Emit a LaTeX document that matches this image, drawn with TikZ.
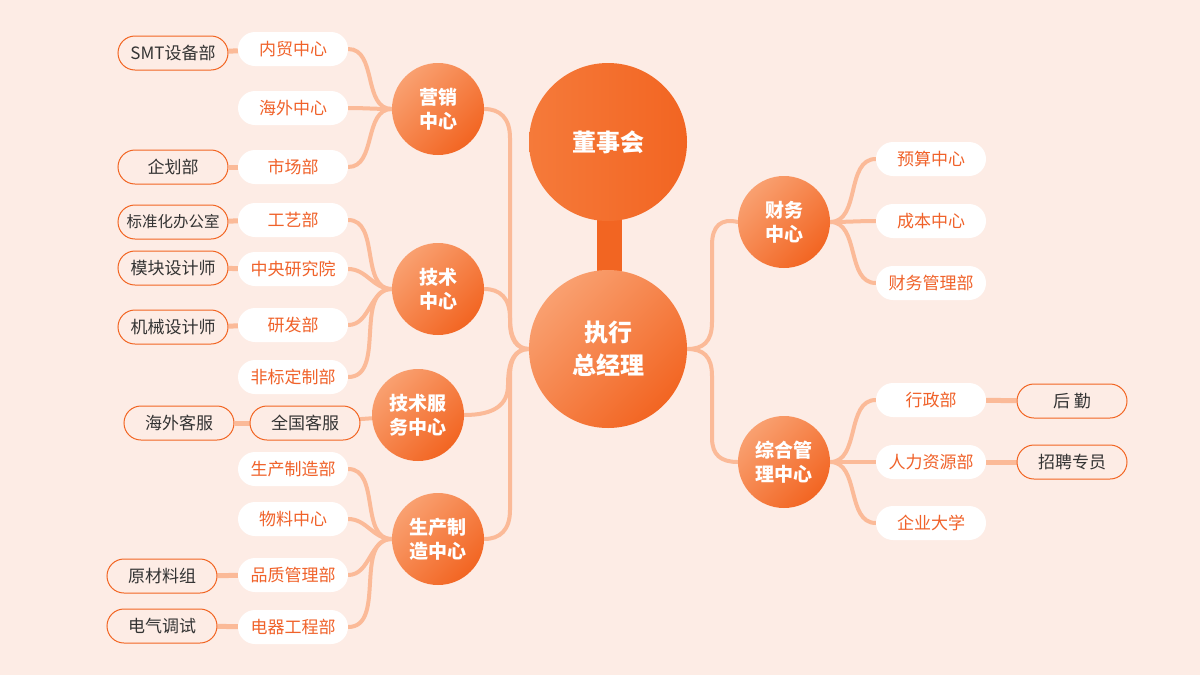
\documentclass[tikz,border=0pt]{standalone}
\usepackage{fontspec}
\setmainfont{Noto Sans CJK SC}
\definecolor{bg}{HTML}{FDECE5}
\definecolor{org}{HTML}{F26522}
\definecolor{orgl}{HTML}{F9A070}
\definecolor{orgm}{HTML}{F57A3A}
\definecolor{lnk}{HTML}{FBBA98}
\definecolor{txo}{HTML}{F0622A}
\definecolor{txd}{HTML}{333333}
\pgfdeclarelayer{bgl}
\pgfdeclarelayer{lines}
\pgfsetlayers{bgl,lines,main}
\begin{document}
\begin{tikzpicture}[x=1pt,y=-1pt,
  hub/.style={circle, minimum size=92pt, inner sep=0pt, top color=orgl, bottom color=org, shading angle=45,
    text=white, font=\bfseries\fontsize{19}{24}\selectfont, align=center},
  bighub/.style={circle, minimum size=158pt, inner sep=0pt, text=white,
    font=\bfseries\fontsize{24}{33}\selectfont, align=center},
  wpill/.style={rectangle, rounded corners=17pt, minimum width=110pt, minimum height=34pt, inner sep=0pt,
    fill=white, text=txo, font=\fontsize{17}{20}\selectfont},
  opill/.style={rectangle, rounded corners=17pt, minimum width=110pt, minimum height=34pt, inner sep=0pt,
    fill=bg, draw=org, line width=1pt, text=txd, font=\fontsize{17}{20}\selectfont},
  conn/.style={draw=lnk, line width=4pt, line cap=round},
  tconn/.style={draw=lnk, line width=5pt}
]
\begin{pgfonlayer}{bgl}
\fill[bg] (0,0) rectangle (1200,675);
\end{pgfonlayer}
\useasboundingbox (0,0) rectangle (1200,675);

% stem and main circles
\fill[org] (597,210) rectangle (622,285);
\node[bighub, left color=orgm, right color=org] (board) at (608,142) {董事会};
\node[bighub, top color=orgl, bottom color=org, shading angle=45] (ceo) at (608,349) {执行\\总经理};

% hubs
\node[hub] (mk) at (438,109) {营销\\中心};
\node[hub] (js) at (438,289) {技术\\中心};
\node[hub] (jf) at (418,415) {技术服\\务中心};
\node[hub] (sc) at (438,539) {生产制\\造中心};
\node[hub] (cw) at (784,222) {财务\\中心};
\node[hub] (zh) at (784,462) {综合管\\理中心};

% second level
\node[wpill] (nm) at (293,49) {内贸中心};
\node[wpill] (hw) at (293,108) {海外中心};
\node[wpill] (scb) at (293,167) {市场部};
\node[wpill] (gy) at (293,220) {工艺部};
\node[wpill] (zy) at (293,269) {中央研究院};
\node[wpill] (yf) at (293,325) {研发部};
\node[wpill] (fb) at (293,377) {非标定制部};
\node[opill] (qg) at (305,423) {全国客服};
\node[wpill] (sz) at (293,469) {生产制造部};
\node[wpill] (wl) at (293,519) {物料中心};
\node[wpill] (pz) at (293,575) {品质管理部};
\node[wpill] (dq) at (293,627) {电器工程部};
\node[wpill] (ys) at (931,159) {预算中心};
\node[wpill] (cb) at (931,221) {成本中心};
\node[wpill] (cg) at (931,283) {财务管理部};
\node[wpill] (xz) at (931,400) {行政部};
\node[wpill] (rl) at (931,462) {人力资源部};
\node[wpill] (qy) at (931,523) {企业大学};

% third level
\node[opill] (smt) at (173,53) {SMT设备部};
\node[opill] (qh) at (173,167) {企划部};
\node[opill, font=\fontsize{15.5}{18}\selectfont] (bz) at (173,222) {标准化办公室};
\node[opill] (mkd) at (173,268) {模块设计师};
\node[opill] (jx) at (173,327) {机械设计师};
\node[opill] (hwk) at (179,423) {海外客服};
\node[opill] (ycl) at (162,576) {原材料组};
\node[opill] (dqt) at (162,626) {电气调试};
\node[opill] (hq) at (1072,401) {后 勤};
\node[opill] (zp) at (1072,462) {招聘专员};

\begin{pgfonlayer}{lines}
% main connectors
\draw[conn] (mk.east) .. controls (500,109) and (510,118) .. (510,138) -- (510,322) .. controls (510,340) and (517,349) .. (ceo.west);
\draw[conn] (js.east) .. controls (500,289) and (510,298) .. (510,318) .. controls (510,338) and (517,349) .. (ceo.west);
\draw[conn] (jf.east) .. controls (494,415) and (508,405) .. (508,385) .. controls (508,360) and (515,349) .. (ceo.west);
\draw[conn] (sc.east) .. controls (500,539) and (510,530) .. (510,510) -- (510,376) .. controls (510,358) and (517,349) .. (ceo.west);
\draw[conn] (ceo.east) .. controls (703,349) and (712,342) .. (712,322) -- (712,245) .. controls (712,226) and (721,218) .. (cw.west);
\draw[conn] (ceo.east) .. controls (703,349) and (712,356) .. (712,376) -- (712,438) .. controls (712,455) and (721,462) .. (zh.west);
% hub to second level
\foreach \p in {nm,hw,scb} \draw[conn] (\p.east) to[out=0,in=180] (mk.west);
\foreach \p in {gy,zy,yf,fb} \draw[conn] (\p.east) to[out=0,in=180] (js.west);
\foreach \p in {sz,wl,pz,dq} \draw[conn] (\p.east) to[out=0,in=180] (sc.west);
\foreach \p in {ys,cb,cg} \draw[conn] (\p.west) to[out=180,in=0] (cw.east);
\foreach \p in {xz,rl,qy} \draw[conn] (\p.west) to[out=180,in=0] (zh.east);
\draw[conn] (qg) -- (jf);
% third level
\draw[tconn] (smt) -- (nm);
\draw[tconn] (qh) -- (scb);
\draw[tconn] (bz) -- (gy);
\draw[tconn] (mkd) -- (zy);
\draw[tconn] (jx) -- (yf);
\draw[tconn] (hwk) -- (qg);
\draw[tconn] (ycl) -- (pz);
\draw[tconn] (dqt) -- (dq);
\draw[tconn] (hq) -- (xz);
\draw[tconn] (zp) -- (rl);
\end{pgfonlayer}
\end{tikzpicture}
\end{document}
